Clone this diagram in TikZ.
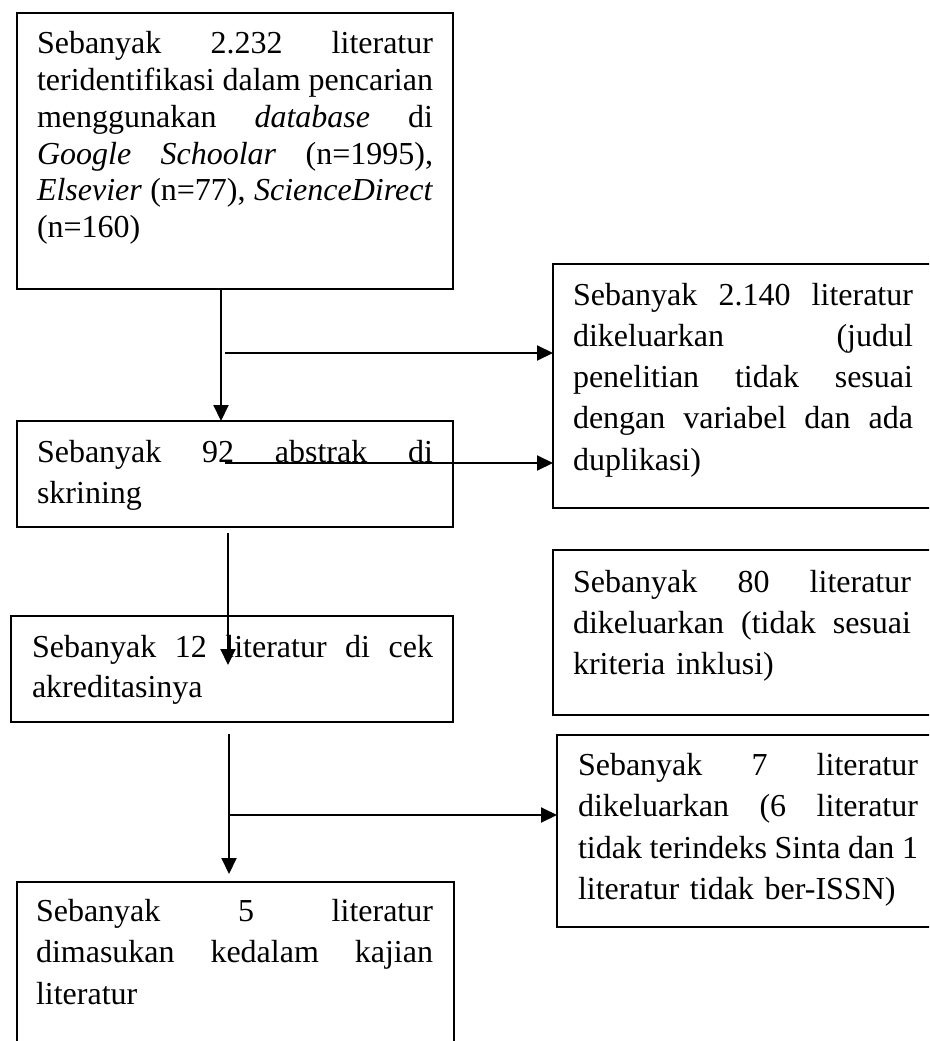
\documentclass[tikz,border=0pt]{standalone}
\usepackage{fontspec}
\setmainfont{Liberation Serif}
\usetikzlibrary{arrows.meta}
\newdimen\jw
\newcommand{\jl}[1]{\leavevmode\hbox to\jw{\spaceskip=0pt\xspaceskip=0pt\relax #1}}
\newcommand{\fstrut}{\rule{0pt}{24pt}}
\begin{document}
\begin{tikzpicture}[x=1pt,y=-1pt,
  box/.style={draw=black, line width=1.3pt, rectangle, inner sep=0pt, outer sep=0pt, anchor=north west},
  txt/.style={inner sep=0pt, outer sep=0pt, anchor=north west, align=left, text width=#1,
              execute at begin node={\global\jw=#1\relax\parindent=0pt\relax},
              font=\fontsize{32pt}{41.3pt}\selectfont},
  conn/.style={line width=2pt, draw=black},
  arr/.style={conn, -{Triangle[length=16pt,width=15pt]}}]
\useasboundingbox (0,0) rectangle (929,1041);
\clip (0,0) rectangle (929,1041);

% boxes
\node[box, minimum width=436pt, minimum height=276pt] (b1) at (17,13) {};
\node[box, minimum width=436pt, minimum height=106pt] (b2) at (17,421) {};
\node[box, minimum width=442pt, minimum height=106pt] (b3) at (11,616) {};
\node[box, minimum width=437pt, minimum height=180pt] (b4) at (17,882) {};
\node[box, minimum width=392pt, minimum height=244pt] (r1) at (553,264) {};
\node[box, minimum width=392pt, minimum height=165pt] (r2) at (553,550) {};
\node[box, minimum width=388pt, minimum height=192pt] (r3) at (557,735) {};

% texts
\node[txt=396pt, font=\fontsize{32pt}{36.7pt}\selectfont] (t1) at (37,30)
 {\jl{\fstrut Sebanyak 2.232 literatur}\\
  \jl{teridentifikasi dalam pencarian}\\
  \jl{menggunakan \textit{database} di}\\
  \jl{\textit{Google Schoolar} (n=1995),}\\
  \jl{\textit{Elsevier} (n=77), \textit{ScienceDirect}}\\
  (n=160)};
\node[txt=396pt] (t2) at (37,438)
 {\jl{\fstrut Sebanyak 92 abstrak di}\\
  skrining};
\node[txt=401pt, font=\fontsize{32pt}{40pt}\selectfont] (t3) at (32,633)
 {\jl{\fstrut Sebanyak 12 literatur di cek}\\
  akreditasinya};
\node[txt=397pt, font=\fontsize{32pt}{41.5pt}\selectfont] (t4) at (36,897)
 {\jl{\fstrut Sebanyak 5 literatur}\\
  \jl{dimasukan kedalam kajian}\\
  literatur};
\node[txt=340pt] (u1) at (573,281)
 {\jl{\fstrut Sebanyak 2.140 literatur}\\
  \jl{dikeluarkan (judul}\\
  \jl{penelitian tidak sesuai}\\
  \jl{dengan variabel dan ada}\\
  duplikasi)};
\node[txt=338pt, font=\fontsize{32pt}{41pt}\selectfont] (u2) at (573,568)
 {\jl{\fstrut Sebanyak 80 literatur}\\
  \jl{dikeluarkan (tidak sesuai}\\
  kriteria inklusi)};
\node[txt=340pt, font=\fontsize{32pt}{41.5pt}\selectfont] (u3) at (578,751)
 {\jl{\fstrut Sebanyak 7 literatur}\\
  \jl{dikeluarkan (6 literatur}\\
  \jl{tidak terindeks Sinta dan 1}\\
  literatur tidak ber-ISSN)};

% connectors
\coordinate (a1) at (221,289);
\draw[arr] (a1) -- (a1 |- b2.north);
\coordinate (hb) at (225,353);
\draw[arr] (hb) -- (hb -| r1.west);
\coordinate (hc) at (225,463);
\draw[arr] (hc) -- (hc -| r1.west);
\coordinate (d1) at (228,533);
\coordinate (d2) at (228,665);
\draw[arr] (d1) -- (d2);
\coordinate (e1) at (229,734);
\coordinate (e2) at (229,874);
\draw[arr] (e1) -- (e2);
\coordinate (f1) at (229,815);
\draw[arr] (f1) -- (f1 -| r3.west);
\end{tikzpicture}
\end{document}
